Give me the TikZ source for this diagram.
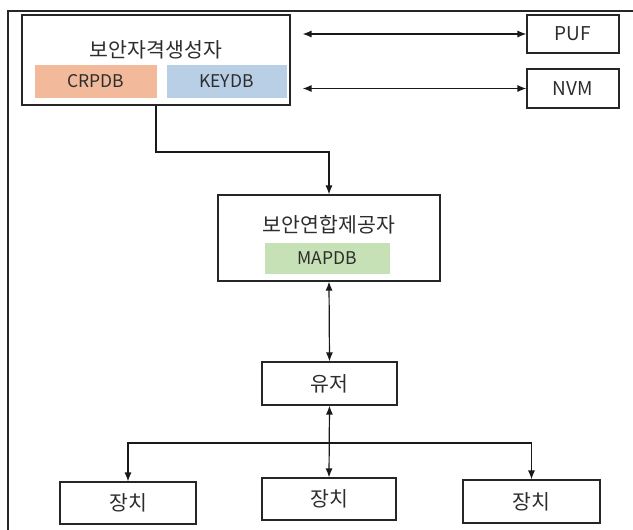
\documentclass[tikz,border=0pt]{standalone}
\usepackage{fontspec}
\setmainfont{Noto Sans CJK KR}
\usetikzlibrary{arrows.meta}
\definecolor{crp}{RGB}{242,186,155}
\definecolor{key}{RGB}{184,207,230}
\definecolor{map}{RGB}{198,225,182}
\definecolor{txt}{RGB}{45,45,45}
\tikzset{
  box/.style={draw=black!85, line width=1.1pt, fill=white, inner sep=0pt},
  lbl/.style={inner sep=0pt, text=txt, font=\fontsize{20.5}{22}\selectfont},
  lat/.style={inner sep=0pt, text=txt, font=\fontsize{19}{21}\selectfont},
  dbfill/.style={inner sep=0pt, draw=none, text=txt, font=\fontsize{17.5}{19}\selectfont},
  conn/.style={line width=1.2pt, draw=black!90, -{Latex[length=9pt,width=7pt]}},
  dconn/.style={line width=1.2pt, draw=black!90, {Latex[length=9pt,width=7pt]}-{Latex[length=9pt,width=7pt]}}
}
\begin{document}
\begin{tikzpicture}[x=1pt,y=-1pt]
\useasboundingbox (0,0) rectangle (633,530);
\draw[line width=1.1pt, black!85] (633,11) -- (8,11) -- (8,530);

% 보안자격생성자
\node[box, minimum width=268pt, minimum height=90pt] (A) at (156,60) {};
\node[lbl] (At) at (156,50) {보안자격생성자};
\node[dbfill, fill=crp, minimum width=122pt, minimum height=33pt] (crp) at (96,81) {CRPDB};
\node[dbfill, fill=key, minimum width=120pt, minimum height=33pt] (key) at (226.5,81) {KEYDB};

% PUF / NVM
\node[box, minimum width=92pt, minimum height=38pt] (P) at (573,34) {};
\node[lat] (Pt) at (P) {PUF};
\node[box, minimum width=92pt, minimum height=39pt] (N) at (573,88.5) {};
\node[lat] (Nt) at (N) {NVM};

% 보안연합제공자
\node[box, minimum width=222pt, minimum height=86pt] (B) at (329,238) {};
\node[lbl] (Bt) at (329,225) {보안연합제공자};
\node[dbfill, fill=map, minimum width=125pt, minimum height=31pt] (mapdb) at (327,258) {MAPDB};

% 유저
\node[box, minimum width=135pt, minimum height=43pt] (U) at (329.5,383.5) {};
\node[lbl] (Ut) at (U) {유저};

% 장치
\node[box, minimum width=136pt, minimum height=42pt] (L) at (128,503) {};
\node[lbl] (Lt) at (L) {장치};
\node[box, minimum width=134pt, minimum height=42pt] (M) at (329,499) {};
\node[lbl] (Mt) at (M) {장치};
\node[box, minimum width=137pt, minimum height=43pt] (R) at (531.5,501.5) {};
\node[lbl] (Rt) at (R) {장치};

% connectors
\draw[dconn] ([xshift=12pt]A.east |- P.west) -- (P.west);
\draw[dconn] ([xshift=12pt]A.east |- N.west) -- (N.west);
\coordinate (bend) at (156,152);
\draw[conn] (A.south) -- (bend) -| (B.north);
\draw[dconn] (B.south) -- (U.north);
\draw[dconn] (U.south) -- (M.north);
\coordinate (bus) at (329.5,443);
\draw[conn] (bus) -| (L.north);
\draw[conn] (bus) -| (R.north);
\end{tikzpicture}
\end{document}
